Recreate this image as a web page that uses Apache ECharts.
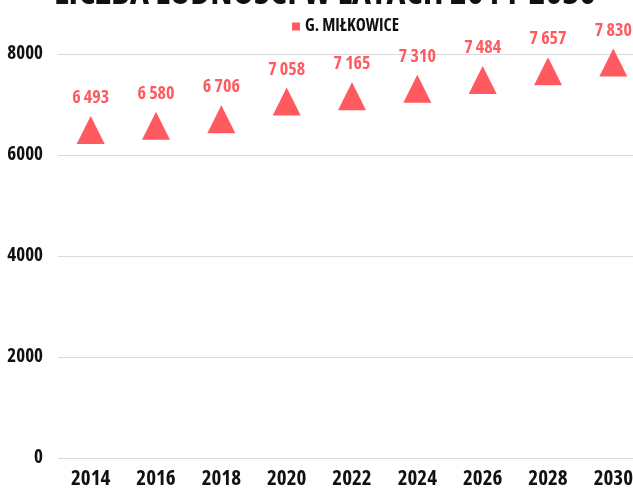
<!DOCTYPE html>
<html>
<head>
<meta charset="utf-8">
<script src="https://cdn.jsdelivr.net/npm/echarts@6/dist/echarts.min.js"></script>
<style>
  html, body { margin: 0; padding: 0; background: #fff; }
  #chart { width: 633px; height: 488px; }
</style>
</head>
<body>
<div id="chart"></div>
<script>
// dane z wykresu
var years = ['2014', '2016', '2018', '2020', '2022', '2024', '2026', '2028', '2030'];
var population = [6493, 6580, 6706, 7058, 7165, 7310, 7484, 7657, 7830];
var seriesName = 'G. MIŁKOWICE';
var yTicks = [0, 2000, 4000, 6000, 8000];

var FONT = '"Open Sans", sans-serif';
var RED = '#ff5a5f';
var INK = '#111';

// waska, pogrubiona czcionka (font-stretch przez fontStyle)
function txt(size, color) {
  return {
    fontFamily: FONT,
    fontStyle: 'condensed',
    fontWeight: 'bold',
    fontSize: size,
    color: color
  };
}

var chart = echarts.init(document.getElementById('chart'));
chart.setOption({
  animation: false,
  title: {
    text: 'LICZBA LUDNOŚCI W LATACH 2014-2030',
    left: 49,
    top: -29,
    textStyle: txt(36, INK)
  },
  legend: {
    data: [seriesName],
    top: 13,
    left: 287,
    icon: 'rect',
    itemWidth: 8,
    itemHeight: 8,
    itemGap: 8,
    textStyle: txt(17, INK)
  },
  grid: {
    left: 58,
    right: -13,
    top: 54,
    bottom: 30,
    outerBoundsMode: 'none'
  },
  xAxis: {
    type: 'category',
    data: years,
    axisLine: { show: false },
    axisTick: { show: false },
    axisLabel: Object.assign({ margin: 11 }, txt(21, INK))
  },
  yAxis: {
    type: 'value',
    min: yTicks[0],
    max: yTicks[yTicks.length - 1],
    interval: 2000,
    axisLine: { show: false },
    axisTick: { show: false },
    splitLine: { lineStyle: { color: '#d9d9d9', width: 1 } },
    axisLabel: Object.assign({
      margin: 15,
      formatter: function (v) { return String(v); }
    }, txt(19, INK))
  },
  series: [{
    name: seriesName,
    type: 'scatter',
    symbol: 'triangle',
    symbolSize: 28,
    itemStyle: { color: RED, opacity: 1 },
    data: population,
    label: Object.assign({
      show: true,
      position: 'top',
      distance: 9,
      formatter: function (p) {
        return String(p.value).replace(/\B(?=(\d{3})+(?!\d))/g, ' ');
      }
    }, txt(18, RED))
  }]
});
</script>
</body>
</html>
